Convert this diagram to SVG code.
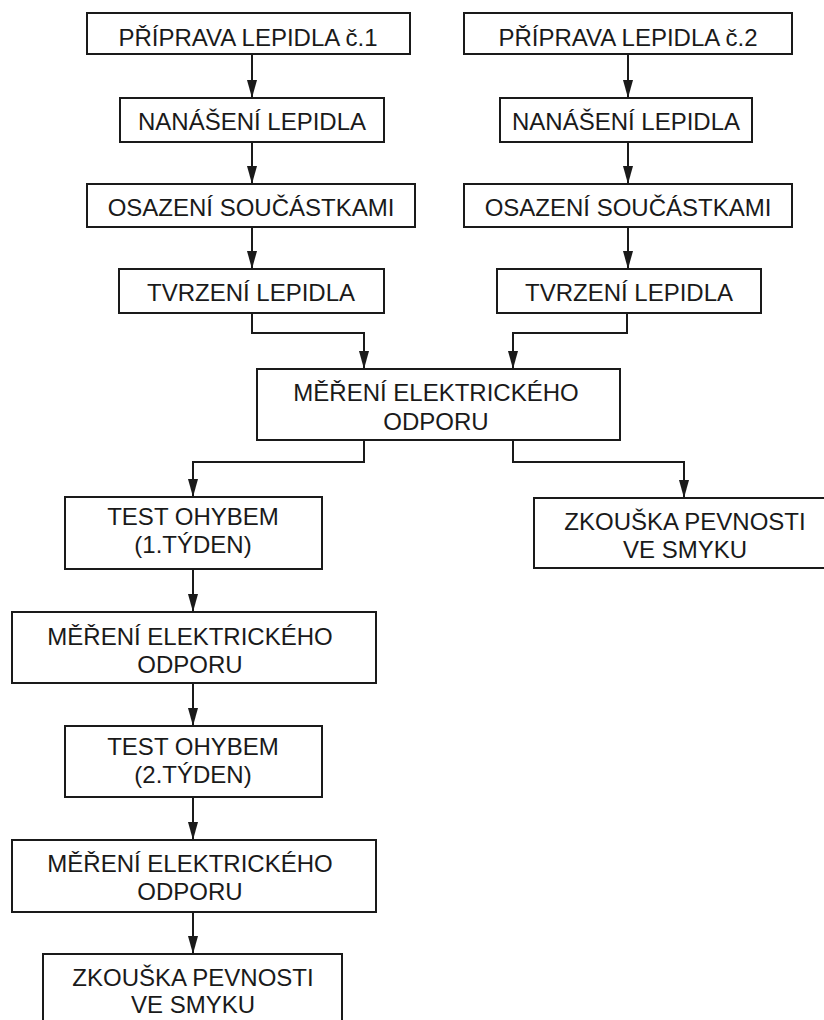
<svg xmlns="http://www.w3.org/2000/svg" width="824" height="1020" viewBox="0 0 824 1020">
<style>
.box{fill:#fff;stroke:#1a1a1a;stroke-width:2}
.t{font-family:"Liberation Sans",Arial,sans-serif;font-size:24px;fill:#1a1a1a;text-anchor:middle}
.c{fill:none;stroke:#1a1a1a;stroke-width:2}
</style>
<defs>
<marker id="ah" markerUnits="userSpaceOnUse" markerWidth="18" markerHeight="10" refX="18" refY="5" orient="auto">
<path d="M0,0 L18,5 L0,10 z" fill="#1a1a1a"/>
</marker>
</defs>
<rect width="824" height="1020" fill="#fff"/>
<g id="connectors">
<path class="c" marker-end="url(#ah)" d="M252,54 V98"/>
<path class="c" marker-end="url(#ah)" d="M252,142 V184"/>
<path class="c" marker-end="url(#ah)" d="M252,227 V269"/>
<path class="c" marker-end="url(#ah)" d="M628,54 V98"/>
<path class="c" marker-end="url(#ah)" d="M628,142 V184"/>
<path class="c" marker-end="url(#ah)" d="M628,227 V269"/>
<path class="c" marker-end="url(#ah)" d="M252,313 V333 H364 V369"/>
<path class="c" marker-end="url(#ah)" d="M627,313 V333 H513 V369"/>
<path class="c" marker-end="url(#ah)" d="M364,440 V462 H193 V497"/>
<path class="c" marker-end="url(#ah)" d="M513,440 V462 H684 V498"/>
<path class="c" marker-end="url(#ah)" d="M193,569 V612"/>
<path class="c" marker-end="url(#ah)" d="M193,683 V726"/>
<path class="c" marker-end="url(#ah)" d="M193,797 V840"/>
<path class="c" marker-end="url(#ah)" d="M193,912 V954"/>
</g>
<g id="n1"><rect class="box" x="87" y="13" width="323" height="41"/><text class="t" x="248" y="46">PŘÍPRAVA LEPIDLA č.1</text></g>
<g id="n2"><rect class="box" x="464" y="13" width="328" height="41"/><text class="t" x="628" y="46">PŘÍPRAVA LEPIDLA č.2</text></g>
<g id="n3"><rect class="box" x="120" y="98" width="264" height="44"/><text class="t" x="252" y="130">NANÁŠENÍ LEPIDLA</text></g>
<g id="n4"><rect class="box" x="500" y="98" width="252" height="44"/><text class="t" x="626" y="130">NANÁŠENÍ LEPIDLA</text></g>
<g id="n5"><rect class="box" x="87" y="184" width="328" height="43"/><text class="t" x="251" y="216">OSAZENÍ SOUČÁSTKAMI</text></g>
<g id="n6"><rect class="box" x="464" y="184" width="328" height="43"/><text class="t" x="628" y="216">OSAZENÍ SOUČÁSTKAMI</text></g>
<g id="n7"><rect class="box" x="119" y="269" width="265" height="44"/><text class="t" x="251" y="301">TVRZENÍ LEPIDLA</text></g>
<g id="n8"><rect class="box" x="497" y="269" width="264" height="44"/><text class="t" x="629" y="301">TVRZENÍ LEPIDLA</text></g>
<g id="n9"><rect class="box" x="257" y="369" width="363" height="71"/><text class="t" x="436" y="401">MĚŘENÍ ELEKTRICKÉHO</text><text class="t" x="436" y="430">ODPORU</text></g>
<g id="n10"><rect class="box" x="65" y="497" width="257" height="72"/><text class="t" x="193" y="525">TEST OHYBEM</text><text class="t" x="193" y="553">(1.TÝDEN)</text></g>
<g id="n11"><rect class="box" x="534" y="498" width="300" height="70"/><text class="t" x="685" y="530">ZKOUŠKA PEVNOSTI</text><text class="t" x="685" y="558">VE SMYKU</text></g>
<g id="n12"><rect class="box" x="12" y="612" width="364" height="71"/><text class="t" x="190" y="645">MĚŘENÍ ELEKTRICKÉHO</text><text class="t" x="190" y="673">ODPORU</text></g>
<g id="n13"><rect class="box" x="65" y="726" width="257" height="71"/><text class="t" x="193" y="755">TEST OHYBEM</text><text class="t" x="193" y="783">(2.TÝDEN)</text></g>
<g id="n14"><rect class="box" x="12" y="840" width="364" height="72"/><text class="t" x="190" y="872">MĚŘENÍ ELEKTRICKÉHO</text><text class="t" x="190" y="900">ODPORU</text></g>
<g id="n15"><rect class="box" x="43" y="954" width="299" height="80"/><text class="t" x="193" y="986">ZKOUŠKA PEVNOSTI</text><text class="t" x="193" y="1013">VE SMYKU</text></g>
</svg>
